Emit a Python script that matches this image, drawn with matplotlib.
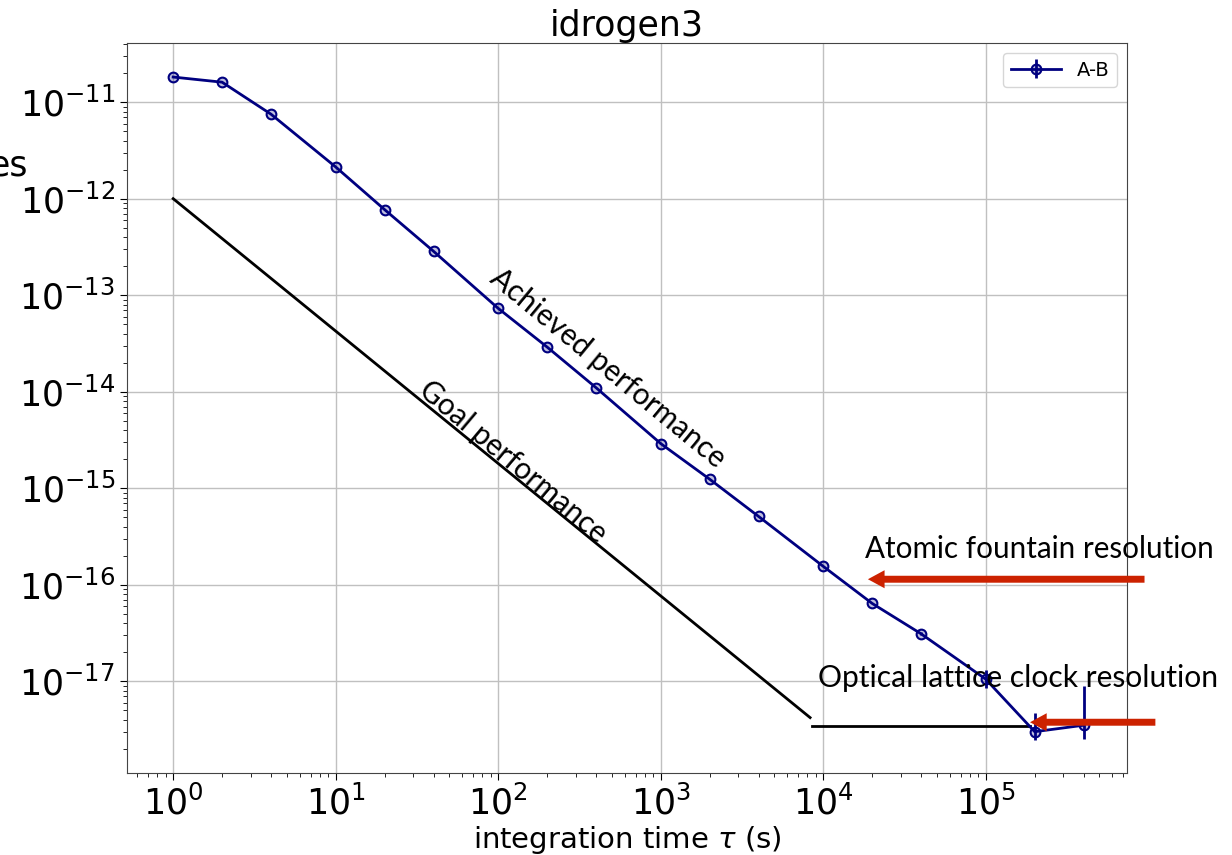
import numpy as np
import matplotlib
matplotlib.use("Agg")
import matplotlib.pyplot as plt

# Allan deviation of the A-B comparison
tau = [1, 2, 4, 10, 20, 40, 100, 200, 400, 1000, 2000, 4000,
       1e4, 2e4, 4e4, 1e5, 2e5, 4e5]
adev = [1.82e-11, 1.61e-11, 7.5e-12, 2.13e-12, 7.7e-13, 2.85e-13, 7.3e-14,
        2.9e-14, 1.1e-14, 2.9e-15, 1.24e-15, 5.1e-16, 1.55e-16, 6.4e-17,
        3.1e-17, 1.05e-17, 3.0e-18, 3.5e-18]
err_lo = [0, 0, 0, 0, 0, 0, 0, 0, 0, 0, 0, 0, 0, 0, 0.1e-17,
          0.2e-17, 0.55e-18, 0.95e-18]
err_hi = [0, 0, 0, 0, 0, 0, 0, 0, 0, 0, 0, 0, 0, 0, 0.1e-17,
          0.25e-17, 1.7e-18, 5.4e-18]

# goal line and floor
goal_tau = [1, 8.3e3]
goal_adev = [1e-12, 4.2e-18]
floor_tau = [8.5e3, 1.88e5]
floor_adev = [3.4e-18, 3.4e-18]

xticks = [1, 10, 100, 1e3, 1e4, 1e5]
yticks = [1e-17, 1e-16, 1e-15, 1e-14, 1e-13, 1e-12, 1e-11]

fig = plt.figure(figsize=(12.32, 8.55), dpi=100)
ax = fig.add_axes([0.1031, 0.0959, 0.8117, 0.8538])

ax.errorbar(tau, adev, yerr=[err_lo, err_hi], color="navy", lw=2,
            marker="o", ms=7, mfc=(0, 0, 0.5, 0.25), mec="navy", mew=1.5,
            capsize=0, label="A-B")
ax.plot(goal_tau, goal_adev, color="black", lw=2)
ax.plot(floor_tau, floor_adev, color="black", lw=2)

ax.set_xscale("log")
ax.set_yscale("log")
ax.set_xticks(xticks)
ax.set_yticks(yticks)
ax.set_xlim(0.52, 7.4e5)
ax.set_ylim(1.12e-18, 4.1e-11)
ax.grid(True, which="major", color="#c0c0c0", lw=1)
ax.tick_params(axis="both", which="major", labelsize=25, length=5)
ax.tick_params(axis="both", which="minor", length=3)
for s in ax.spines.values():
    s.set_color("#444444")

ax.set_title("idrogen3", fontsize=25, pad=5)
ax.set_xlabel(r"integration time $\tau$ (s)", fontsize=21, labelpad=2)
fig.text(28 / 1232, 1 - 165 / 855, "es", fontsize=25, ha="right", va="center")

leg = ax.legend(loc="upper right", fontsize=14, handlelength=2.6)

font = "Lato"
ax.text(475, 1.75e-14, "Achieved performance", rotation=-39.5, fontsize=21.3,
        family=font, ha="center", va="center", rotation_mode="anchor")
ax.text(124, 1.86e-15, "Goal performance", rotation=-40, fontsize=21.3,
        family=font, ha="center", va="center", rotation_mode="anchor")
ax.text(1.81e4, 1.88e-16, "Atomic fountain resolution", fontsize=21.3,
        family=font, ha="left", va="baseline", clip_on=False)
ax.text(9.3e3, 8.7e-18, "Optical lattice clock resolution", fontsize=21.6,
        family=font, ha="left", va="baseline", clip_on=False)

arrow = dict(arrowstyle="simple,head_length=1.2,head_width=1.3,tail_width=0.5",
             mutation_scale=10, color="#cc2200", lw=0)
ax.annotate("", xy=(1.81e4, 1.14e-16), xytext=(9.86e5, 1.14e-16),
            arrowprops=arrow, annotation_clip=False)
ax.annotate("", xy=(1.8e5, 3.76e-18), xytext=(1.15e6, 3.76e-18),
            arrowprops=arrow, annotation_clip=False)

fig.savefig("out.png", dpi=100)
